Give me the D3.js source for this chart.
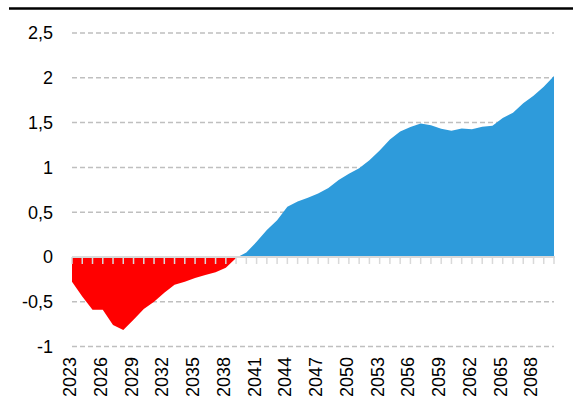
<!DOCTYPE html>
<html>
<head>
<meta charset="utf-8">
<script src="https://cdn.jsdelivr.net/npm/d3@7"></script>
<style>
  html, body { margin: 0; padding: 0; background: #fff; }
  svg { display: block; }
  text { font-family: "Liberation Sans", Arial, sans-serif; fill: #000; }
</style>
</head>
<body>
<svg width="573" height="401"></svg>
<script>
const years = d3.range(2023, 2071);
const values = [
  -0.275, -0.44, -0.59, -0.59, -0.76, -0.815, -0.70, -0.58, -0.50, -0.40,
  -0.31, -0.275, -0.235, -0.20, -0.17, -0.12, -0.01, 0.05, 0.17, 0.30,
  0.41, 0.56, 0.62, 0.66, 0.71, 0.77, 0.86, 0.93, 0.99, 1.08,
  1.19, 1.31, 1.40, 1.45, 1.49, 1.47, 1.43, 1.41, 1.435, 1.425,
  1.455, 1.465, 1.55, 1.61, 1.715, 1.80, 1.90, 2.02
];
const yTicks = [-1, -0.5, 0, 0.5, 1, 1.5, 2, 2.5];
const labelYears = years.filter(y => (y - 2023) % 3 === 0);

const data = years.map((year, i) => ({ year, value: values[i] }));

const svg = d3.select('svg');
const left = 72, right = 554;

const x = d3.scaleLinear().domain([2023, 2070]).range([left, right]);
const y = d3.scaleLinear().domain([-1, 2.5]).range([346.6, 33]);

const fmt = v => String(v).replace('.', ',');

// top rule
svg.append('line')
  .attr('x1', 9).attr('x2', 573)
  .attr('y1', 8.5).attr('y2', 8.5)
  .style('stroke', '#000')
  .style('stroke-width', 2.5);

// gridlines
svg.append('g')
  .selectAll('line')
  .data(yTicks.filter(t => t !== 0))
  .join('line')
  .attr('x1', left).attr('x2', right)
  .attr('y1', d => y(d)).attr('y2', d => y(d))
  .style('stroke', '#bfbfbf')
  .style('stroke-width', 1.5)
  .style('stroke-dasharray', '5,3');

// y labels
svg.append('g')
  .selectAll('text')
  .data(yTicks)
  .join('text')
  .attr('x', 53)
  .attr('y', d => y(d))
  .attr('dy', '0.36em')
  .attr('text-anchor', 'end')
  .style('font-size', '18px')
  .text(fmt);

// area, split at zero with clip paths
const area = d3.area()
  .x(d => x(d.year))
  .y0(y(0))
  .y1(d => y(d.value));

const defs = svg.append('defs');
defs.append('clipPath').attr('id', 'clipPos')
  .append('rect')
  .attr('x', 0).attr('y', 0).attr('width', 573).attr('height', y(0));
defs.append('clipPath').attr('id', 'clipNeg')
  .append('rect')
  .attr('x', 0).attr('y', y(0)).attr('width', 573).attr('height', 401 - y(0));

svg.append('path')
  .datum(data)
  .attr('d', area)
  .attr('clip-path', 'url(#clipPos)')
  .style('fill', '#2e9bdb');

svg.append('path')
  .datum(data)
  .attr('d', area)
  .attr('clip-path', 'url(#clipNeg)')
  .style('fill', '#ff0000');

// zero axis with tick marks
svg.append('line')
  .attr('x1', left).attr('x2', right + 1)
  .attr('y1', y(0)).attr('y2', y(0))
  .style('stroke', '#d9d9d9')
  .style('stroke-width', 2);

svg.append('g')
  .selectAll('line')
  .data(years)
  .join('line')
  .attr('x1', d => x(d)).attr('x2', d => x(d))
  .attr('y1', y(0)).attr('y2', y(0) + 7)
  .style('stroke', '#d9d9d9')
  .style('stroke-width', 1.5);

// x labels
svg.append('g')
  .selectAll('text')
  .data(labelYears)
  .join('text')
  .attr('transform', d => `translate(${x(d)},357) rotate(-90)`)
  .attr('text-anchor', 'end')
  .attr('dy', '0.22em')
  .style('font-size', '18px')
  .text(d => d);
</script>
</body>
</html>
